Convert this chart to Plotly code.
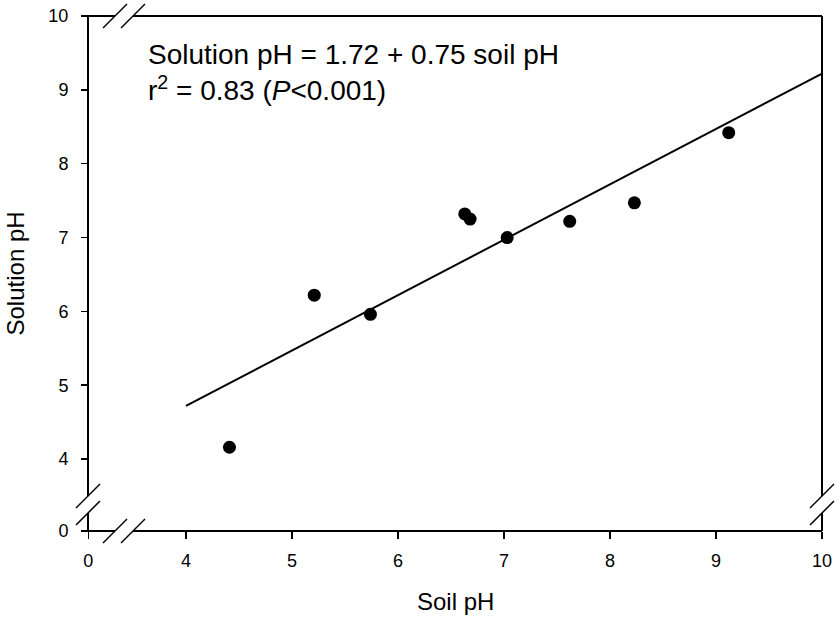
import plotly.graph_objects as go

# ---- data ----
soil_ph = [4.41, 5.21, 5.74, 6.63, 6.68, 7.03, 7.62, 8.23, 9.12]
solution_ph = [4.16, 6.22, 5.96, 7.32, 7.25, 7.00, 7.22, 7.47, 8.42]
fit_intercept = 1.72
fit_slope = 0.75
fit_x = [4, 10]
fit_y = [fit_intercept + fit_slope * v for v in fit_x]
main_ticks = [4, 5, 6, 7, 8, 9, 10]
low_ticks = [0]

W, H = 838, 617
ML, MR, MT, MB = 88, 16, 16, 86
PW, PH = W - ML - MR, H - MT - MB


def px(x):
    return (x - ML) / PW


def py(y):
    return (H - MB - y) / PH


FONT = "Liberation Sans, Arial, Helvetica, sans-serif"

fig = go.Figure()
fig.add_trace(go.Scatter(x=fit_x, y=fit_y, mode="lines",
                         line=dict(color="black", width=2), showlegend=False,
                         hoverinfo="skip"))
fig.add_trace(go.Scatter(x=soil_ph, y=solution_ph, mode="markers",
                         marker=dict(color="black", size=13), showlegend=False))
# invisible trace to create the low (0) segment of the broken axes
fig.add_trace(go.Scatter(x=[None], y=[None], xaxis="x2", yaxis="y2",
                         showlegend=False, hoverinfo="skip"))

x_break_a, x_break_b = 115, 133   # pixel centres of the two break slashes
y_break_a, y_break_b = 513, 496

axis_common = dict(showgrid=False, zeroline=False, showline=False,
                   ticks="outside", ticklen=7, tickwidth=1.5, tickcolor="black",
                   tickfont=dict(family=FONT, size=18, color="black"),
                   fixedrange=True)
xa = dict(ticklabelstandoff=6, **axis_common)
ya = dict(ticklabelstandoff=9, **axis_common)

fig.update_layout(
    width=W, height=H,
    margin=dict(l=ML, r=MR, t=MT, b=MB, autoexpand=False),
    paper_bgcolor="white", plot_bgcolor="white",
    xaxis=dict(range=[3.5, 10], domain=[px(x_break_b), 1], anchor="free",
               position=0, tickvals=main_ticks, **xa),
    yaxis=dict(range=[3.5, 10], domain=[py(y_break_b), 1], anchor="free",
               position=0, tickvals=main_ticks, **ya),
    xaxis2=dict(range=[-0.01, 1], domain=[0, px(x_break_a)], anchor="free",
                position=0, tickvals=low_ticks, **xa),
    yaxis2=dict(range=[-0.01, 1], domain=[0, py(y_break_a)], anchor="free",
                position=0, tickvals=low_ticks, **ya),
)

shapes = []
line = dict(color="black", width=2)
xl, xr, yt, yb = ML, W - MR, MT, H - MB
segs = [
    (xl, yb, x_break_a, yb), (x_break_b, yb, xr, yb),      # bottom
    (xl, yt, x_break_a, yt), (x_break_b, yt, xr, yt),      # top
    (xl, yb, xl, y_break_a), (xl, y_break_b, xl, yt),      # left
    (xr, yb, xr, y_break_a), (xr, y_break_b, xr, yt),      # right
]
for (x0, y0, x1, y1) in segs:
    shapes.append(dict(type="line", xref="paper", yref="paper",
                       x0=px(x0), y0=py(y0), x1=px(x1), y1=py(y1), line=line))
s = 12
slash_centres = [(x_break_a, yb), (x_break_b, yb), (x_break_a, yt), (x_break_b, yt),
                 (xl, y_break_a), (xl, y_break_b), (xr, y_break_a), (xr, y_break_b)]
for (cx, cy) in slash_centres:
    shapes.append(dict(type="line", xref="paper", yref="paper",
                       x0=px(cx - s), y0=py(cy + s), x1=px(cx + s), y1=py(cy - s),
                       line=dict(color="black", width=1.5)))
fig.update_layout(shapes=shapes)

fig.add_annotation(xref="paper", yref="paper", x=px(146), y=py(37),
                   xanchor="left", yanchor="top", align="left", showarrow=False,
                   text="Solution pH = 1.72 + 0.75 soil pH<br>r<sup>2</sup> = 0.83 (<i>P</i><0.001)",
                   font=dict(family=FONT, size=28, color="black"))
fig.add_annotation(xref="paper", yref="paper", x=0.5, y=py(601),
                   xanchor="center", yanchor="middle", showarrow=False,
                   text="Soil pH", font=dict(family=FONT, size=24, color="black"))
fig.add_annotation(xref="paper", yref="paper", x=px(15), y=0.5,
                   xanchor="center", yanchor="middle", showarrow=False, textangle=-90,
                   text="Solution pH", font=dict(family=FONT, size=24, color="black"))

fig.write_html("out.html",
               config={"displayModeBar": False, "staticPlot": True},
               post_script="document.body.style.margin='0';"
                           "document.body.style.overflow='hidden';")
